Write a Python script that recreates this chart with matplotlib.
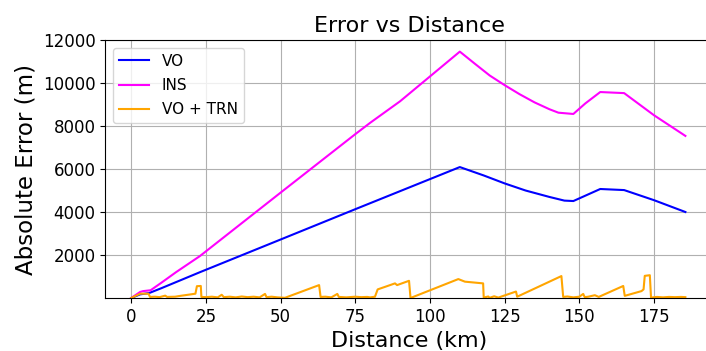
import matplotlib
matplotlib.use('Agg')
import matplotlib.pyplot as plt

# distances (km) / absolute error (m)
vo_dist = [0, 3, 6, 10, 23, 50, 75, 110, 118, 125, 132, 140, 145, 148, 157, 165, 175, 185.5]
vo_err = [0, 170, 230, 450, 1200, 2720, 4130, 6090, 5700, 5330, 5000, 4700, 4530, 4510, 5070, 5020, 4550, 4000]

ins_dist = [0, 3, 4, 6.5, 10, 15, 23, 50, 75, 80, 82, 85, 90, 110, 115, 120, 125, 130, 135, 140, 143, 148,
            152, 157, 165, 175, 185.5]
ins_err = [0, 280, 320, 360, 700, 1200, 1950, 4900, 7620, 8150, 8350, 8650, 9150, 11460, 10900, 10350, 9900,
           9480, 9100, 8780, 8620, 8560, 9050, 9580, 9530, 8500, 7540]

trn_dist = [0, 3, 5.8, 6.3, 8, 9.5, 11.4, 12, 14.7, 16, 18, 20, 21.5, 22, 23.3, 23.5,
            25, 27, 29, 30.3, 31, 33, 35, 37, 39, 41, 43, 44.8, 45.3, 47, 49, 51.5,
            62.9, 63.4, 65, 67, 69, 69.5, 72, 75, 77, 79, 80, 81.6, 82.5, 85, 88.3, 89, 93, 93.5,
            109.5, 111.7, 117.8, 118, 119.5, 120, 121.5, 122.9, 128.8, 129.2,
            144, 144.6, 146, 148, 150, 151.3, 151.8, 153, 155.2, 156.5, 164.7, 165.2,
            170.8, 171.5, 171.9, 173.6, 174, 176, 178, 180, 182, 184, 185.5]
trn_err = [0, 200, 200, 50, 60, 40, 110, 50, 60, 90, 130, 170, 200, 550, 560, 50,
           40, 60, 30, 150, 40, 60, 30, 70, 40, 60, 30, 190, 40, 60, 30, 10,
           600, 50, 60, 30, 190, 50, 30, 60, 40, 50, 30, 60, 400, 520, 680, 600, 800, 0,
           880, 760, 680, 20, 70, 10, 80, 20, 300, 60,
           1020, 50, 70, 30, 60, 190, 40, 60, 130, 50, 560, 100,
           320, 400, 1030, 1060, 20, 50, 30, 50, 40, 50, 40]

fig = plt.figure(figsize=(7.06, 3.51), dpi=100)
ax = fig.add_axes([0.149, 0.151, 0.862, 0.735])

ax.plot(vo_dist, vo_err, color='blue', lw=1.5, label='VO')
ax.plot(ins_dist, ins_err, color='magenta', lw=1.5, label='INS')
ax.plot(trn_dist, trn_err, color='orange', lw=1.5, label='VO + TRN')

ax.set_xlim(-8.7, 195)
ax.set_ylim(0, 12000)
ax.set_xticks([0, 25, 50, 75, 100, 125, 150, 175])
ax.set_yticks([2000, 4000, 6000, 8000, 10000, 12000])
ax.tick_params(labelsize=12)
ax.grid(True)

ax.set_title('Error vs Distance', fontsize=16)
ax.set_xlabel('Distance (km)', fontsize=16)
ax.set_ylabel('Absolute Error (m)', fontsize=16.5)
ax.legend(loc='upper left', fontsize=11, labelspacing=0.6)

fig.savefig('out.png', dpi=100)
